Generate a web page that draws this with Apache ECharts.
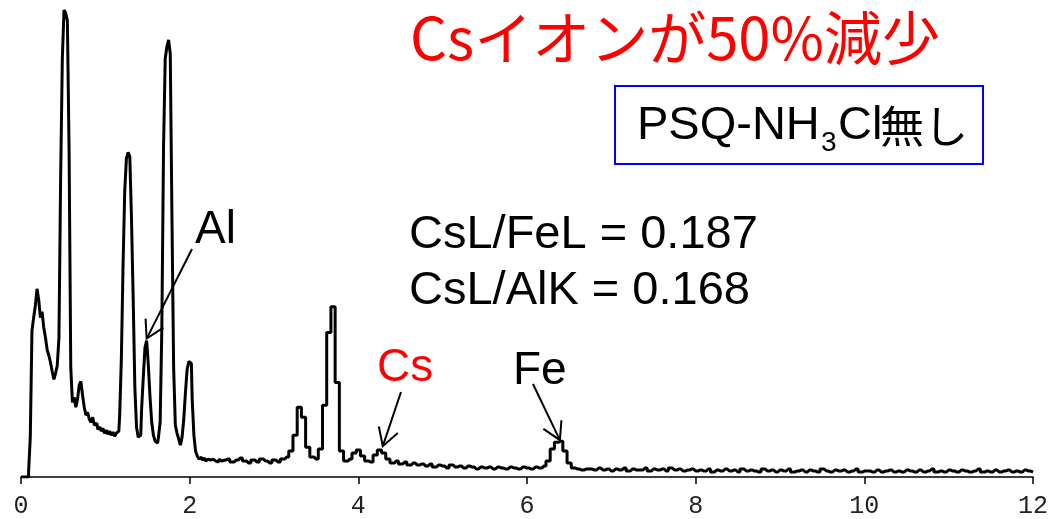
<!DOCTYPE html>
<html>
<head>
<meta charset="utf-8">
<title>EDS spectrum</title>
<script src="https://cdn.jsdelivr.net/npm/echarts@6.0.0/dist/echarts.min.js"></script>
<style>
  html, body { margin: 0; padding: 0; background: #fff; }
  #main { width: 1051px; height: 519px; }
</style>
</head>
<body>
<div id="main"></div>
<script>
// x axis (keV)
const xTicks = [0, 2, 4, 6, 8, 10, 12];

// counts, 0.00 - 2.40 keV every 0.02 keV
const lowStart = 0, lowStep = 0.02;
const lowCounts = [
  0, 0, 0, 0, 0, 5, 40, 147, 160, 172,
  189, 178, 160, 166, 150, 140, 128, 122, 115, 106,
  98, 104, 112, 140, 300, 420, 469, 466, 458, 330,
  110, 75, 80, 70, 78, 92, 96, 82, 70, 62,
  65, 58, 55, 60, 52, 54, 48, 50, 46, 49,
  44, 47, 43, 46, 42, 45, 41, 44, 46, 62,
  119, 212, 287, 320, 326, 322, 260, 180, 90, 50,
  40, 42, 68, 100, 130, 137, 112, 80, 55, 42,
  36, 34, 40, 55, 150, 330, 420, 432, 439, 425,
  260, 110, 52, 44, 38, 32, 40, 58, 85, 108,
  116, 114, 78, 42, 26, 21, 18, 20, 17, 19,
  16, 18, 17, 15, 18, 16, 17, 15, 18, 16, 17
];

// counts, 2.45 - 12.00 keV every 0.05 keV
const highStart = 2.45, highStep = 0.05;
const highCounts = [
  18, 15, 17, 19, 16, 14, 17, 15, 18, 16,
  14, 17, 15, 18, 20, 26, 42, 70, 60, 30,
  20, 18, 28, 72, 145, 171, 95, 26, 16, 18,
  24, 27, 21, 16, 15, 22, 27, 24, 18, 14,
  16, 13, 15, 12, 14, 12, 13, 11, 13, 10,
  12, 11, 9, 12, 10, 11, 9, 11, 10, 8,
  10, 9, 10, 8, 10, 9, 8, 10, 9, 8,
  10, 9, 8, 10, 9, 11, 16, 28, 35, 36,
  26, 14, 9, 8, 7, 8,
  8, 7, 9, 7, 8, 6, 8, 7, 9, 6, 8, 7, 7, 9, 6, 8, 7, 8, 6, 9, 7, 8, 6, 7, 8, 6,
  7, 6, 8, 5, 7, 6, 8, 6, 7, 5, 8, 6, 7, 6, 5, 8, 6, 7, 5, 7,
  6, 8, 5, 6, 7, 5, 7, 6, 5, 8, 6, 5, 7, 6, 7, 5, 6, 8, 5, 6,
  6, 5, 7, 5, 6, 7, 5, 6, 5, 7, 6, 5, 7, 5, 6, 8, 5, 6, 5, 7,
  6, 5, 7, 6, 5, 6, 8, 5, 6, 5, 7, 5, 6, 7, 5, 6, 5, 7, 6, 5
];

// peak labels and where their arrows point (keV, counts)
const peakNames = ['Al', 'Cs', 'Fe'];
const peakEnergy = [1.49, 4.29, 6.39];
const peakHeight = [139, 31, 37];
const peakColors = ['#000', '#ff0000', '#000'];

const titleText = 'Csイオンが50%減少';
const ratioLines = ['CsL/FeL = 0.187', 'CsL/AlK = 0.168'];

const spectrum = [];
lowCounts.forEach(function (v, i) {
  spectrum.push([+(lowStart + i * lowStep).toFixed(2), v]);
});
highCounts.forEach(function (v, i) {
  spectrum.push([+(highStart + i * highStep).toFixed(2), v]);
});

const chart = echarts.init(document.getElementById('main'));

chart.setOption({
  animation: false,
  backgroundColor: '#fff',
  grid: { left: 21, right: 10, top: 0, bottom: 40 },
  xAxis: {
    type: 'value',
    min: xTicks[0],
    max: xTicks[xTicks.length - 1],
    interval: 2,
    axisLine: { lineStyle: { color: '#000', width: 1.5 } },
    axisTick: { length: 7, lineStyle: { color: '#000', width: 1.5 } },
    axisLabel: {
      margin: 17,
      color: '#222',
      fontSize: 25,
      fontFamily: 'Liberation Mono'
    },
    splitLine: { show: false }
  },
  yAxis: {
    type: 'value',
    min: 0,
    max: 479,
    show: false
  },
  series: [{
    type: 'line',
    data: spectrum,
    step: 'middle',
    showSymbol: false,
    symbol: 'none',
    lineStyle: { color: '#000', width: 3 }
  }]
});

// arrow from a label to a peak
function arrow(tail, tip) {
  const ang = Math.atan2(tail[1] - tip[1], tail[0] - tip[0]);
  const w = 20, a = Math.PI / 6;
  const p1 = [tip[0] + w * Math.cos(ang + a), tip[1] + w * Math.sin(ang + a)];
  const p2 = [tip[0] + w * Math.cos(ang - a), tip[1] + w * Math.sin(ang - a)];
  return [
    { type: 'line', shape: { x1: tail[0], y1: tail[1], x2: tip[0], y2: tip[1] },
      style: { stroke: '#000', lineWidth: 2 } },
    { type: 'polyline', shape: { points: [p1, tip, p2] },
      style: { stroke: '#000', lineWidth: 2, fill: null } }
  ];
}

function label(text, x, y, size, color, family) {
  return {
    type: 'text', x: x, y: y,
    style: {
      text: text, fill: color, fontSize: size,
      fontFamily: family || '"Liberation Sans", "Noto Sans CJK JP"',
      align: 'left', verticalAlign: 'middle'
    }
  };
}

const labelPos = [[195, 230], [377, 368], [513, 371]];
const tailPos = [[192, 249], [401, 392], [533, 384]];

const graphic = [];
peakNames.forEach(function (name, i) {
  const tip = chart.convertToPixel({ gridIndex: 0 }, [peakEnergy[i], peakHeight[i]]);
  graphic.push(label(name, labelPos[i][0], labelPos[i][1], 46, peakColors[i]));
  arrow(tailPos[i], tip).forEach(function (g) { graphic.push(g); });
});

graphic.push(label(titleText, 410, 38, 58, '#ff0000', '"Noto Sans CJK JP"'));
graphic.push(label(ratioLines[0], 409, 235, 47, '#000'));
graphic.push(label(ratioLines[1], 409, 291, 47, '#000'));

// sample box
graphic.push({
  type: 'rect',
  shape: { x: 615, y: 86, width: 368, height: 78 },
  style: { stroke: '#0000ff', lineWidth: 2, fill: null }
});
graphic.push(label('PSQ-NH', 637, 126, 47, '#000'));
graphic.push(label('3', 821, 143, 28, '#000'));
graphic.push(label('Cl', 838, 126, 47, '#000'));
graphic.push(label('無し', 880, 126, 44, '#000', '"Noto Sans CJK JP"'));

chart.setOption({ graphic: graphic });

window.addEventListener('resize', function () {
  chart.resize();
});
</script>
</body>
</html>
